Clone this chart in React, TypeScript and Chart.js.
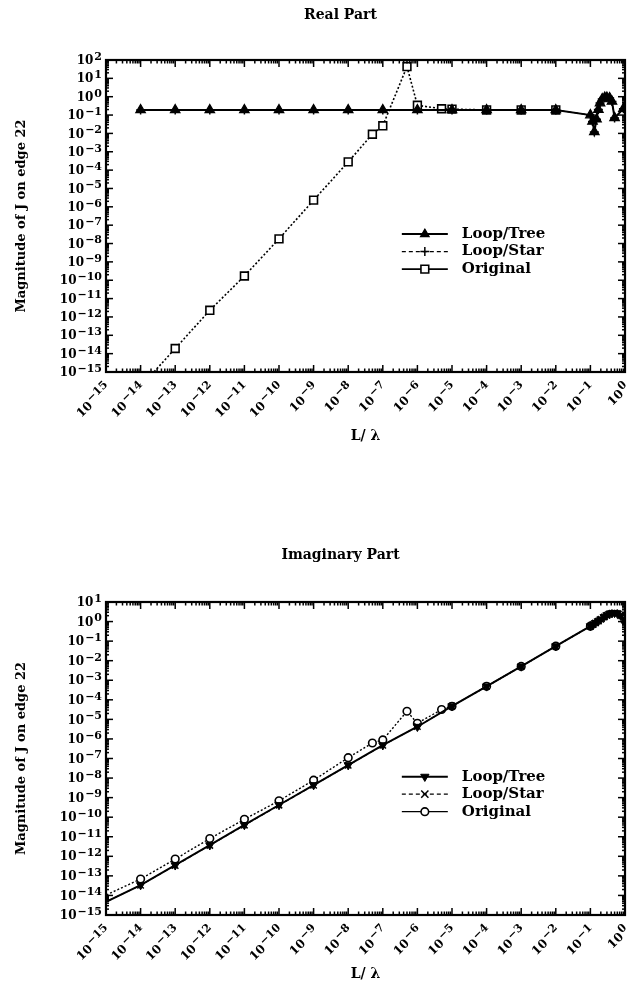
import React, { useEffect, useRef } from "react";
import { Chart, registerables } from "chart.js";

Chart.register(...registerables);

const SERIF = "'DejaVu Serif', 'Liberation Serif', serif";

// ---------- Real part (top chart) ----------
const realTitle = "Real Part";
const realTreeX = [1e-14, 1e-13, 1e-12, 1e-11, 1e-10, 1e-9, 1e-8, 1e-7, 1e-6, 1e-5, 1e-4, 1e-3, 1e-2, 0.1, 0.115, 0.13, 0.15, 0.17, 0.19, 0.22, 0.26, 0.3, 0.36, 0.42, 0.5, 0.9];
const realTreeY = [0.19, 0.19, 0.19, 0.19, 0.19, 0.19, 0.19, 0.19, 0.19, 0.19, 0.19, 0.19, 0.19, 0.1, 0.045, 0.012, 0.06, 0.2, 0.45, 0.75, 0.9, 0.9, 0.85, 0.55, 0.07, 0.22];
const realStarX = [1e-14, 1e-13, 1e-12, 1e-11, 1e-10, 1e-9, 1e-8, 1e-7, 1e-6, 1e-5, 1e-4, 1e-3, 1e-2, 0.1, 0.115, 0.13, 0.15, 0.17, 0.19, 0.22, 0.26, 0.3, 0.36, 0.42, 0.5, 0.9];
const realStarY = [0.19, 0.19, 0.19, 0.19, 0.19, 0.19, 0.19, 0.19, 0.19, 0.19, 0.19, 0.19, 0.19, 0.1, 0.045, 0.012, 0.06, 0.2, 0.45, 0.75, 0.9, 0.9, 0.85, 0.55, 0.07, 0.22];
const realOrigX = [1e-14, 1e-13, 1e-12, 1e-11, 1e-10, 1e-9, 1e-8, 5e-8, 1e-7, 5e-7, 1e-6, 5e-6, 1e-5, 1e-4, 1e-3, 1e-2];
const realOrigY = [1.6e-16, 1.9e-14, 2.3e-12, 1.7e-10, 1.8e-8, 2.3e-6, 2.8e-4, 9e-3, 2.6e-2, 44, 0.34, 0.22, 0.21, 0.19, 0.19, 0.19];

// ---------- Imaginary part (bottom chart) ----------
const imagTitle = "Imaginary Part";
const imagTreeX = [5e-16, 1e-14, 1e-13, 1e-12, 1e-11, 1e-10, 1e-9, 1e-8, 1e-7, 1e-6, 1e-5, 1e-4, 1e-3, 1e-2, 0.1, 0.12, 0.14, 0.17, 0.2, 0.25, 0.3, 0.36, 0.42, 0.5, 0.6, 0.75, 0.95];
const imagTreeY = [2.6e-15, 3.4e-14, 3.5e-13, 3.7e-12, 4e-11, 4.2e-10, 4.4e-9, 4.6e-8, 4.8e-7, 4.2e-6, 4.7e-5, 4.9e-4, 5.1e-3, 5.5e-2, 0.58, 0.7, 0.85, 1.05, 1.3, 1.7, 2.1, 2.5, 2.7, 2.8, 2.6, 2.0, 1.2];
const imagStarX = [5e-16, 1e-14, 1e-13, 1e-12, 1e-11, 1e-10, 1e-9, 1e-8, 1e-7, 1e-6, 1e-5, 1e-4, 1e-3, 1e-2, 0.1, 0.12, 0.14, 0.17, 0.2, 0.25, 0.3, 0.36, 0.42, 0.5, 0.6, 0.75, 0.95];
const imagStarY = [2.6e-15, 3.3e-14, 3.4e-13, 3.6e-12, 3.9e-11, 4.1e-10, 4.3e-9, 4.5e-8, 4.7e-7, 4.3e-6, 4.8e-5, 4.9e-4, 5.1e-3, 5.5e-2, 0.58, 0.7, 0.85, 1.05, 1.3, 1.7, 2.1, 2.5, 2.7, 2.8, 2.6, 2.0, 1.2];
const imagOrigX = [5e-16, 1e-14, 1e-13, 1e-12, 1e-11, 1e-10, 1e-9, 1e-8, 5e-8, 1e-7, 5e-7, 1e-6, 5e-6, 1e-5, 1e-4, 1e-3, 1e-2, 0.1];
const imagOrigY = [5.9e-15, 6.9e-14, 7.2e-13, 8.1e-12, 7.8e-11, 6.9e-10, 7.8e-9, 1.1e-7, 6.2e-7, 8.9e-7, 2.6e-5, 6.3e-6, 3.2e-5, 4.7e-5, 4.9e-4, 5.1e-3, 5.5e-2, 0.58];

const seriesNames = ["Loop/Tree", "Loop/Star", "Original"];
const xAxisTitle = "L/ λ";
const yAxisTitle = "Magnitude of J on edge 22";
const xMin = 1e-15;
const xMax = 1;
const yMin = 1e-15;
const realYMax = 100;
const imagYMax = 10;

const pts = (xs: number[], ys: number[]) => xs.map((x, i) => ({ x, y: ys[i] }));

function drawMarker(ctx: CanvasRenderingContext2D, style: string, x: number, y: number, r: number, fill: string) {
  ctx.save();
  ctx.beginPath();
  ctx.fillStyle = fill;
  ctx.strokeStyle = "#000";
  if (style === "triangle" || style === "triangleDown") {
    const s = style === "triangle" ? 1 : -1;
    ctx.moveTo(x, y - s * r);
    ctx.lineTo(x + r * 0.866, y + s * r * 0.5);
    ctx.lineTo(x - r * 0.866, y + s * r * 0.5);
    ctx.closePath();
    ctx.fill();
    ctx.stroke();
  } else if (style === "rect") {
    const h = r * Math.SQRT1_2;
    ctx.rect(x - h, y - h, 2 * h, 2 * h);
    ctx.fill();
    ctx.stroke();
  } else if (style === "circle") {
    ctx.arc(x, y, r, 0, Math.PI * 2);
    ctx.fill();
    ctx.stroke();
  } else if (style === "cross") {
    ctx.moveTo(x - r, y);
    ctx.lineTo(x + r, y);
    ctx.moveTo(x, y - r);
    ctx.lineTo(x, y + r);
    ctx.stroke();
  } else if (style === "crossRot") {
    const h = r * 0.8;
    ctx.moveTo(x - h, y - h);
    ctx.lineTo(x + h, y + h);
    ctx.moveTo(x + h, y - h);
    ctx.lineTo(x - h, y + h);
    ctx.stroke();
  }
  ctx.restore();
}

function drawPow(ctx: CanvasRenderingContext2D, exp: number, x: number, y: number) {
  // right-aligned at x, vertically centred at y
  const base = "10";
  const ex = exp < 0 ? "\u2212" + Math.abs(exp) : String(exp);
  ctx.font = `bold 12px ${SERIF}`;
  const wb = ctx.measureText(base).width;
  ctx.font = `bold 11px ${SERIF}`;
  const we = ctx.measureText(ex).width;
  ctx.textAlign = "left";
  ctx.textBaseline = "middle";
  ctx.font = `bold 12px ${SERIF}`;
  ctx.fillText(base, x - wb - we - 1, y);
  ctx.font = `bold 11px ${SERIF}`;
  ctx.fillText(ex, x - we, y - 4);
}

const framePlugin = {
  id: "frameTicks",
  afterDraw(chart: any) {
    const { ctx, chartArea: a, scales } = chart;
    const xs = scales.x;
    const ys = scales.y;
    const opts = chart.options.plugins.frameTicks || {};
    ctx.save();
    ctx.strokeStyle = "#000";
    ctx.fillStyle = "#000";
    ctx.lineWidth = 1.5;
    const seg = (x1: number, y1: number, x2: number, y2: number) => {
      ctx.beginPath();
      ctx.moveTo(x1, y1);
      ctx.lineTo(x2, y2);
      ctx.stroke();
    };
    const x0 = Math.round(Math.log10(xs.min));
    const x1 = Math.round(Math.log10(xs.max));
    for (let e = x0; e <= x1; e++) {
      for (let m = 1; m <= 9; m++) {
        if (e === x1 && m > 1) break;
        const px = xs.getPixelForValue(m * Math.pow(10, e));
        const len = m === 1 ? 7 : 3.5;
        seg(px, a.bottom, px, a.bottom - len);
        seg(px, a.top, px, a.top + len);
      }
    }
    const y0 = Math.round(Math.log10(ys.min));
    const y1 = Math.round(Math.log10(ys.max));
    for (let e = y0; e <= y1; e++) {
      for (let m = 1; m <= 9; m++) {
        if (e === y1 && m > 1) break;
        const py = ys.getPixelForValue(m * Math.pow(10, e));
        const len = m === 1 ? 7 : 3;
        seg(a.left, py, a.left + len, py);
        seg(a.right, py, a.right - len, py);
      }
    }
    ctx.lineWidth = 2.2;
    ctx.strokeRect(a.left, a.top, a.right - a.left, a.bottom - a.top);

    // y labels
    for (let e = y0; e <= y1; e++) {
      const py = ys.getPixelForValue(Math.pow(10, e));
      drawPow(ctx, e, a.left - 4, py + 1);
    }
    // x labels, rotated 45°
    for (let e = x0; e <= x1; e++) {
      const px = xs.getPixelForValue(Math.pow(10, e));
      ctx.save();
      ctx.translate(px + 3, a.bottom + 14);
      ctx.rotate(-Math.PI / 4);
      drawPow(ctx, e, 0, 0);
      ctx.restore();
    }

    // main title
    ctx.font = `bold 14px ${SERIF}`;
    ctx.textAlign = "center";
    ctx.textBaseline = "middle";
    ctx.fillText(opts.title, (a.left + a.right) / 2 - 25, opts.titleY);

    // legend
    const lx = a.left + (a.right - a.left) * 0.57;
    const ly = a.top + (a.bottom - a.top) * 0.558;
    chart.data.datasets.forEach((ds: any, i: number) => {
      const yy = ly + i * 17.5;
      ctx.save();
      ctx.lineWidth = ds.borderWidth;
      ctx.setLineDash(ds.legendDash || []);
      seg(lx, yy, lx + 46, yy);
      ctx.setLineDash([]);
      ctx.lineWidth = ds.pointBorderWidth || 1;
      drawMarker(ctx, ds.legendMarker, lx + 23, yy, ds.legendRadius, ds.pointBackgroundColor);
      ctx.restore();
      ctx.font = `bold 15px ${SERIF}`;
      ctx.textAlign = "left";
      ctx.textBaseline = "middle";
      ctx.fillStyle = "#000";
      ctx.fillText(ds.label, lx + 60, yy);
    });
    ctx.restore();
  },
};

function makeConfig(kind: "real" | "imag") {
  const real = kind === "real";
  const datasets = real
    ? [
        {
          label: seriesNames[0], data: pts(realTreeX, realTreeY), borderColor: "#000", borderWidth: 2,
          pointStyle: "triangle", pointRadius: 5.5, pointBackgroundColor: "#000", pointBorderColor: "#000", pointBorderWidth: 1.2,
          legendMarker: "triangle", legendRadius: 5, legendDash: [],
        },
        {
          label: seriesNames[1], data: pts(realStarX, realStarY), borderColor: "#000", borderWidth: 1.2, borderDash: [4, 3],
          pointStyle: "cross", pointRadius: 4.5, pointBackgroundColor: "#000", pointBorderColor: "#000", pointBorderWidth: 1.5,
          legendMarker: "cross", legendRadius: 4.5, legendDash: [4, 3],
        },
        {
          label: seriesNames[2], data: pts(realOrigX, realOrigY), borderColor: "#000", borderWidth: 1.6, borderDash: [2, 2],
          pointStyle: "rect", pointRadius: 5.5, pointBackgroundColor: "#fff", pointBorderColor: "#000", pointBorderWidth: 1.6,
          legendMarker: "rect", legendRadius: 5.5, legendDash: [],
        },
      ]
    : [
        {
          label: seriesNames[0], data: pts(imagTreeX, imagTreeY), borderColor: "#000", borderWidth: 2,
          pointStyle: "triangle", rotation: 180, pointRadius: 4.8, pointBackgroundColor: "#000", pointBorderColor: "#000", pointBorderWidth: 1,
          legendMarker: "triangleDown", legendRadius: 4.8, legendDash: [],
        },
        {
          label: seriesNames[1], data: pts(imagStarX, imagStarY), borderColor: "#000", borderWidth: 1.2, borderDash: [4, 3],
          pointStyle: "crossRot", pointRadius: 4.5, pointBackgroundColor: "#000", pointBorderColor: "#000", pointBorderWidth: 1.5,
          legendMarker: "crossRot", legendRadius: 4.5, legendDash: [4, 3],
        },
        {
          label: seriesNames[2], data: pts(imagOrigX, imagOrigY), borderColor: "#000", borderWidth: 1.4, borderDash: [2, 2],
          pointStyle: "circle", pointRadius: 3.8, pointBackgroundColor: "#fff", pointBorderColor: "#000", pointBorderWidth: 1.6,
          legendMarker: "circle", legendRadius: 3.8, legendDash: [],
        },
      ];

  const padTop = real ? 60 : 107;
  const xh = real ? 123 : 75;
  const xTitlePad = real ? 50 : 7;

  return {
    type: "line",
    data: { datasets },
    options: {
      animation: false,
      responsive: false,
      maintainAspectRatio: false,
      parsing: true,
      layout: { padding: { top: padTop, left: 0, right: 14, bottom: 0 } },
      elements: { line: { tension: 0 } },
      plugins: {
        legend: { display: false },
        tooltip: { enabled: false },
        title: { display: false },
        frameTicks: { title: real ? realTitle : imagTitle, titleY: real ? 15 : 60 },
      },
      scales: {
        x: {
          type: "logarithmic",
          min: xMin,
          max: xMax,
          ticks: { display: false },
          grid: { display: false },
          border: { display: false },
          title: {
            display: true, text: xAxisTitle, color: "#000",
            font: { family: SERIF, weight: "bold", size: 14 },
            padding: { top: 0, bottom: xTitlePad },
          },
          afterFit: (s: any) => { s.height = xh; },
        },
        y: {
          type: "logarithmic",
          min: yMin,
          max: real ? realYMax : imagYMax,
          ticks: { display: false },
          grid: { display: false },
          border: { display: false },
          title: {
            display: true, text: yAxisTitle, color: "#000",
            font: { family: SERIF, weight: "bold", size: 13 },
            padding: { top: 14, bottom: 0 },
          },
          afterFit: (s: any) => { s.width = 106; },
        },
      },
    },
    plugins: [framePlugin],
  };
}

function PlotCanvas({ kind, top }: { kind: "real" | "imag"; top: number }) {
  const ref = useRef<HTMLCanvasElement | null>(null);
  useEffect(() => {
    if (!ref.current) return;
    const chart = new Chart(ref.current, makeConfig(kind) as any);
    return () => chart.destroy();
  }, [kind]);
  return (
    <canvas
      ref={ref}
      width={639}
      height={495}
      style={{ position: "absolute", left: 0, top, width: 639, height: 495, display: "block" }}
    />
  );
}

export default function App() {
  return (
    <div style={{ position: "absolute", left: 0, top: 0, width: 639, height: 990, background: "#fff" }}>
      <PlotCanvas kind="real" top={0} />
      <PlotCanvas kind="imag" top={495} />
    </div>
  );
}
